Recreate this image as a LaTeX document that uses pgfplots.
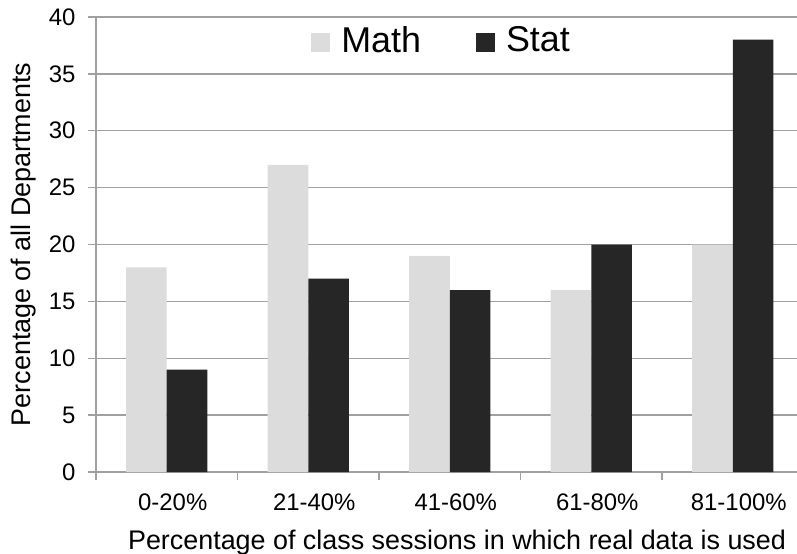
\documentclass[border=0pt]{standalone}
\usepackage{pgfplots}
\pgfplotsset{compat=1.18}
\usepackage{fontspec}
\setmainfont{Liberation Sans}
\definecolor{mathc}{HTML}{DCDCDC}
\definecolor{statc}{HTML}{262626}
\definecolor{gridc}{HTML}{A0A0A0}
\begin{document}
\begin{tikzpicture}
\begin{axis}[
  scale only axis, width=701bp, height=455bp,
  xmin=-0.5, xmax=4.454, ymin=0, ymax=40,
  axis x line=bottom, axis y line=left,
  axis line style={-, draw=gridc, line width=1.3bp},
  ybar=0pt, bar width=40.7bp,
  ytick={0,5,...,40},
  ymajorgrids, grid style={draw=gridc, line width=1.3bp},
  xtick={0,1,2,3,4},
  xticklabels={0-20\%,21-40\%,41-60\%,61-80\%,81-100\%},
  minor xtick={-0.5,0.5,1.5,2.5,3.5},
  tick align=outside,
  major tick length=8bp, minor tick length=8bp,
  tick style={draw=gridc, line width=1.3bp},
  major x tick style={draw=none},
  /pgf/number format/assume math mode=true,
  tick label style={font=\fontsize{24}{28}\selectfont},
  xticklabel style={xshift=6bp, yshift=-10bp},
  yticklabel style={xshift=-9bp},
  xlabel={Percentage of class sessions in which real data is used},
  ylabel={Percentage of all Departments},
  every axis x label/.style={at={(axis description cs:0.515,-0.155)}, anchor=center, font=\fontsize{27}{31}\selectfont},
  every axis y label/.style={at={(axis description cs:-0.1027,0.5)}, rotate=90, anchor=center, font=\fontsize{27}{31}\selectfont},
  legend style={at={(axis description cs:0.493,0.949)}, anchor=center, draw=none, fill=none,
    font=\fontsize{36}{40}\selectfont, legend columns=2,
    /tikz/every even column/.append style={column sep=53bp}},
  legend image code/.code={\fill[#1] (0bp,-11.5bp) rectangle (19bp,7.5bp); \path (28bp,0bp);},
]
\addplot[fill=mathc, draw=none] coordinates {(0,18) (1,27) (2,19) (3,16) (4,20)};
\addplot[fill=statc, draw=none] coordinates {(0,9) (1,17) (2,16) (3,20) (4,38)};
\legend{Math,Stat}
\end{axis}
\pgfresetboundingbox
\path[use as bounding box] ([xshift=-96bp,yshift=-82bp]current axis.south west) rectangle ([yshift=17bp]current axis.north east);
\end{tikzpicture}
\end{document}
